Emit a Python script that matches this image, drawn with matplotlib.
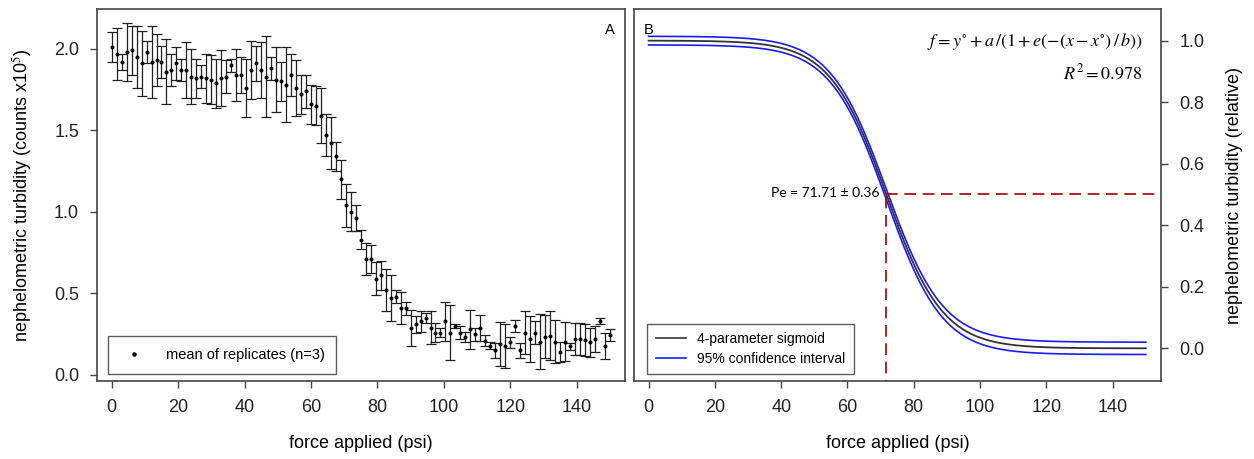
import numpy as np
import matplotlib
matplotlib.use("Agg")
from matplotlib import pyplot as plt
from matplotlib.lines import Line2D

plt.rcParams['font.family'] = ['Liberation Sans', 'DejaVu Sans']
plt.rcParams['mathtext.fontset'] = 'stix'

# readings taken every 1.5 psi from 0 to 150 psi
step_psi = 1.5
turb_mean = [2.01, 1.97, 1.92, 1.98, 1.99, 1.95, 1.91, 1.98, 1.92, 1.93,
             1.92, 1.86, 1.87, 1.91, 1.87, 1.87, 1.83, 1.82, 1.83, 1.82,
             1.81, 1.79, 1.82, 1.83, 1.90, 1.84, 1.84, 1.76, 1.87, 1.91,
             1.87, 1.83, 1.88, 1.81, 1.80, 1.78, 1.84, 1.76, 1.72, 1.74,
             1.66, 1.65, 1.59, 1.47, 1.42, 1.34, 1.20, 1.04, 1.00, 0.965,
             0.83, 0.71, 0.71, 0.59, 0.61, 0.52, 0.47, 0.48, 0.41, 0.41,
             0.29, 0.31, 0.33, 0.35, 0.29, 0.26, 0.26, 0.33, 0.26, 0.30,
             0.26, 0.235, 0.28, 0.25, 0.29, 0.21, 0.18, 0.15, 0.19, 0.18,
             0.20, 0.30, 0.15, 0.26, 0.22, 0.26, 0.205, 0.235, 0.24, 0.205,
             0.14, 0.205, 0.175, 0.22, 0.22, 0.215, 0.20, 0.22, 0.33, 0.175,
             0.245]
turb_err = [0.09, 0.16, 0.05, 0.18, 0.15, 0.19, 0.20, 0.07, 0.22, 0.16,
            0.10, 0.20, 0.10, 0.10, 0.07, 0.17, 0.17, 0.12, 0.07, 0.15,
            0.15, 0.15, 0.17, 0.10, 0.04, 0.16, 0.11, 0.18, 0.18, 0.11,
            0.17, 0.25, 0.07, 0.20, 0.12, 0.23, 0.13, 0.17, 0.12, 0.10,
            0.12, 0.12, 0.17, 0.13, 0.16, 0.09, 0.12, 0.13, 0.12, 0.08,
            0.06, 0.10, 0.085, 0.10, 0.09, 0.13, 0.14, 0.04, 0.10, 0.04,
            0.11, 0.05, 0.065, 0.03, 0.10, 0.06, 0.03, 0.12, 0.17, 0.015,
            0.04, 0.03, 0.12, 0.04, 0.08, 0.035, 0.02, 0.045, 0.135, 0.135,
            0.035, 0.035, 0.045, 0.13, 0.14, 0.07, 0.17, 0.13, 0.15, 0.13,
            0.06, 0.12, 0.02, 0.10, 0.10, 0.10, 0.09, 0.08, 0.02, 0.08,
            0.035]
force = np.arange(len(turb_mean)) * step_psi

# 4-parameter sigmoid fit (relative units)
y_base = 0.0
amp = 1.0
pe = 71.71
pe_err = 0.36
slope_b = -8.5
r2 = 0.978
ci_top = 0.014     # CI half-width on the upper plateau
ci_bottom = 0.02   # CI half-width on the lower plateau

xticks = [0, 20, 40, 60, 80, 100, 120, 140]

fig = plt.figure(figsize=(12.54, 4.59), dpi=100)
axA = fig.add_axes([0.0774, 0.170, 0.4211, 0.810])
axB = fig.add_axes([0.5056, 0.170, 0.4203, 0.810])

# ---- panel A ----
axA.errorbar(force, turb_mean, yerr=turb_err, fmt='o', ms=1.9, color='black',
             ecolor='#202020', elinewidth=0.9, capsize=3.6, capthick=0.9)
axA.set_xlim(-4.4, 154.6)
axA.set_ylim(-0.037, 2.243)
axA.set_xticks(xticks)
axA.set_yticks([0.0, 0.5, 1.0, 1.5, 2.0])
axA.set_yticklabels(['0.0', '0.5', '1.0', '1.5', '2.0'])
axA.set_xlabel('force applied (psi)', fontsize=13, labelpad=14)
axA.set_ylabel('nephelometric turbidity (counts x10$^5$)', fontsize=13, labelpad=14)
axA.text(0.972, 0.962, 'A', transform=axA.transAxes, fontsize=10.5,
         ha='center', va='top')
dot = Line2D([], [], ls='none', marker='o', ms=2.2, color='black')
legA = axA.legend([dot], ['mean of replicates (n=3)'], loc='lower left',
                  bbox_to_anchor=(0.006, 0.0), fontsize=10.5,
                  frameon=True, fancybox=False, edgecolor='#333333',
                  borderpad=0.8, handletextpad=1.2)
legA.get_frame().set_linewidth(1.0)

# ---- panel B ----
xs = np.linspace(0, 150, 400)
frac = 1.0 / (1.0 + np.exp(-(xs - pe) / slope_b))
fit = y_base + amp * frac
ci = ci_bottom + (ci_top - ci_bottom) * frac
axB.plot(xs, fit + ci, color='#1a1aff', lw=1.2)
axB.plot(xs, fit - ci, color='#1a1aff', lw=1.2)
axB.plot(xs, fit, color='#333333', lw=1.3)

half = y_base + amp / 2
axB.plot([pe, pe], [-0.2, half], color='#a00000', lw=1.2, dashes=(7, 4))
axB.plot([pe, 160], [half, half], color='#a00000', lw=1.2, dashes=(7, 4))
axB.text(pe - 2.0, half + 0.005, 'Pe = %.2f \u00b1 %.2f' % (pe, pe_err),
         fontsize=10, ha='right', va='center', family=['Lato', 'DejaVu Sans'])

axB.text(0.965, 0.912, r'$f = y^{\circ} + a\,/(1 + e(-(x - x^{\circ})\,/\,b))$',
         transform=axB.transAxes, fontsize=13, ha='right', va='center')
axB.text(0.965, 0.829, r'$R^2 = %.3f$' % r2,
         transform=axB.transAxes, fontsize=13, ha='right', va='center')
axB.text(0.018, 0.962, 'B', transform=axB.transAxes, fontsize=10.5,
         ha='left', va='top')

axB.set_xlim(-4.4, 154.6)
axB.set_ylim(-0.106, 1.102)
axB.set_xticks(xticks)
axB.set_yticks([0.0, 0.2, 0.4, 0.6, 0.8, 1.0])
axB.set_yticklabels(['0.0', '0.2', '0.4', '0.6', '0.8', '1.0'])
axB.yaxis.tick_right()
axB.yaxis.set_label_position('right')
axB.set_xlabel('force applied (psi)', fontsize=13, labelpad=14)
axB.set_ylabel('nephelometric turbidity (relative)', fontsize=13, labelpad=16)

handles = [Line2D([], [], color='#333333', lw=1.2),
           Line2D([], [], color='#1a1aff', lw=1.2)]
legB = axB.legend(handles, ['4-parameter sigmoid', '95% confidence interval'],
                  loc='lower left', bbox_to_anchor=(0.012, 0.0), fontsize=10,
                  frameon=True, fancybox=False, edgecolor='#333333',
                  handlelength=2.2, borderpad=0.6, labelspacing=0.4)
legB.get_frame().set_linewidth(1.0)

for ax in (axA, axB):
    for sp in ax.spines.values():
        sp.set_color('#444444')
        sp.set_linewidth(1.2)
    ax.tick_params(direction='out', length=5, width=1, colors='#444444',
                   labelcolor='#222222', labelsize=13, pad=8)

fig.savefig('out.png', dpi=100)
